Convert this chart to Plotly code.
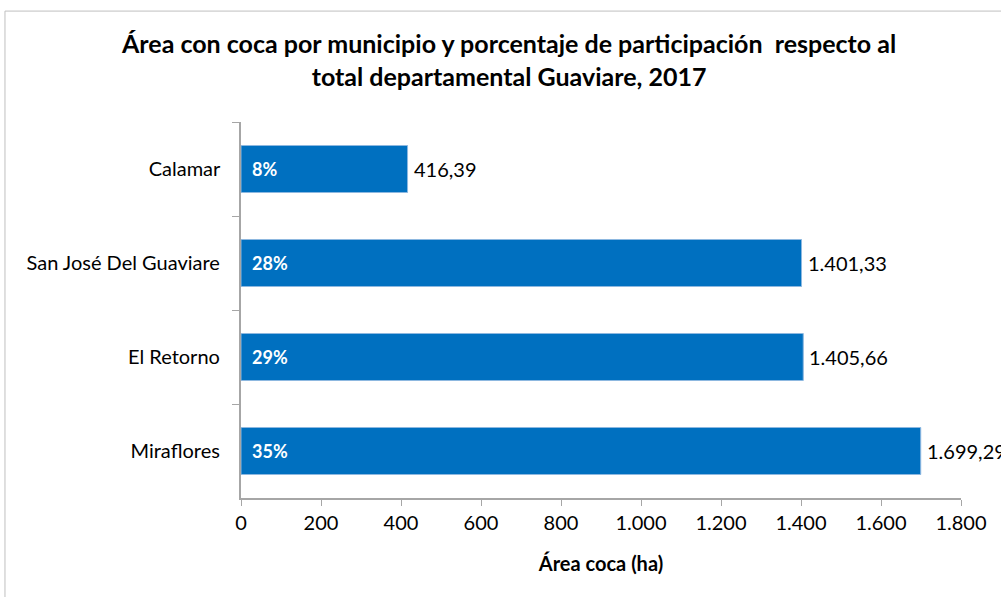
import plotly.graph_objects as go

municipios = ["Calamar", "San José Del Guaviare", "El Retorno", "Miraflores"]
area_ha = [416.39, 1401.33, 1405.66, 1699.29]
participacion = ["8%", "28%", "29%", "35%"]
x_ticks = [0, 200, 400, 600, 800, 1000, 1200, 1400, 1600, 1800]
titulo = "Área con coca por municipio y porcentaje de participación  respecto al<br>total departamental Guaviare, 2017"

FONT = "Lato, Open Sans, sans-serif"

def fmt_es(v):
    s = f"{v:,.2f}"
    return s.replace(",", "X").replace(".", ",").replace("X", ".")

fig = go.Figure()
fig.add_trace(go.Bar(
    y=municipios, x=area_ha, orientation="h",
    marker=dict(color="#0070C0", line=dict(color="#8DB8E0", width=1)),
    width=0.5, hoverinfo="skip", showlegend=False,
))

for m, p, v in zip(municipios, participacion, area_ha):
    fig.add_annotation(x=0, y=m, text="<b>" + p + "</b>", showarrow=False,
                       xanchor="left", xshift=9,
                       font=dict(family=FONT, size=18, color="white"))
    fig.add_annotation(x=v, y=m, text=fmt_es(v), showarrow=False,
                       xanchor="left", xshift=4,
                       font=dict(family=FONT, size=20, color="#000000"))

fig.add_annotation(xref="paper", yref="paper", x=0.371, y=1.166,
                   xanchor="center", yanchor="middle", showarrow=False,
                   text="<b>" + titulo + "</b>",
                   font=dict(family=FONT, size=25, color="#000000"))

fig.add_shape(type="rect", xref="paper", yref="paper",
              x0=-0.3278, x1=1.2, y0=-0.5, y1=1.295,
              line=dict(color="#BFBFBF", width=1), layer="below")

fig.update_layout(
    width=1001, height=597,
    margin=dict(l=241, r=40, t=122, b=99),
    paper_bgcolor="white", plot_bgcolor="white",
    separators=",.",
    font=dict(family=FONT, color="#000000"),
    xaxis=dict(
        range=[0, 1800], tickvals=x_ticks, tickformat=",d",
        showgrid=False, zeroline=False,
        showline=True, linecolor="#A6A6A6", linewidth=1.5,
        ticks="outside", ticklen=6, tickcolor="#A6A6A6",
        tickfont=dict(family=FONT, size=20, color="#000000"),
        title=dict(text="<b>Área coca (ha)</b>", font=dict(family=FONT, size=20), standoff=24),
    ),
    yaxis=dict(
        categoryorder="array", categoryarray=municipios, autorange="reversed",
        showgrid=False, zeroline=False,
        showline=True, linecolor="#A6A6A6", linewidth=1.5,
        ticks="outside", ticklen=7, tickcolor="#A6A6A6", tickson="boundaries",
        tickfont=dict(family=FONT, size=20, color="#000000"),
        ticksuffix="   ",
    ),
)

fig.write_html("out.html", config={"displayModeBar": False},
               post_script="document.body.style.margin='0px';document.body.style.overflow='hidden';")
